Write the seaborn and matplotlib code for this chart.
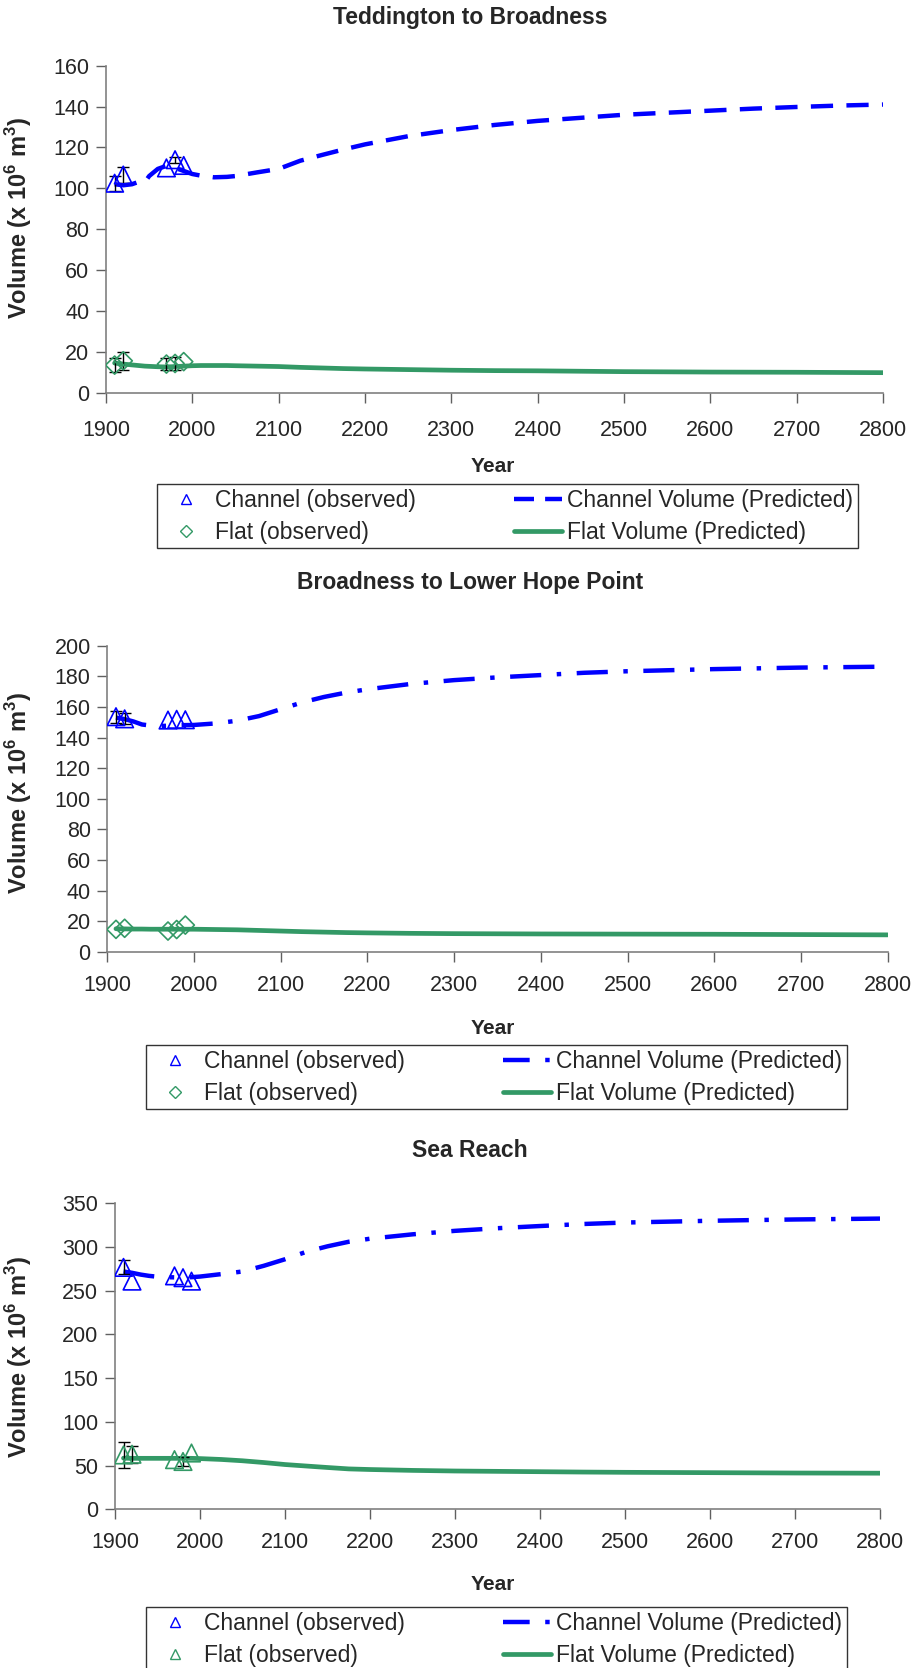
import matplotlib
matplotlib.use('Agg')
import matplotlib.pyplot as plt
from matplotlib.lines import Line2D
import numpy as np
import seaborn as sns

# observed survey years (same in every reach)
obs_years = [1910, 1920, 1970, 1980, 1990]

# Teddington to Broadness
ted_channel_obs = [102.5, 106.5, 110.0, 114.0, 111.2]
ted_channel_err = [3.6, 3.7, 0, 1.5, 0]
ted_flat_obs = [13.5, 15.6, 14.0, 14.3, 15.2]
ted_flat_err = [3.5, 4.3, 3.0, 3.0, 0]
ted_pred_years = [1910, 1920, 1930, 1940, 1945, 1950, 1960, 1970, 1980, 1990, 2000, 2010,
                  2025, 2040, 2050, 2075, 2100, 2125, 2150, 2175, 2200, 2250, 2300, 2350,
                  2400, 2450, 2500, 2550, 2600, 2650, 2700, 2750, 2800]
ted_channel_pred = [102, 101.5, 102, 103.5, 103, 106, 109.5, 111, 110, 108.5, 107, 106.2,
                    105.4, 105.6, 106, 107.8, 109.5, 113.5, 116.3, 119, 121.5, 125.5, 128.5, 131,
                    133, 134.5, 136, 137, 138, 139, 139.8, 140.5, 141]
ted_flat_pred = [14.5, 14, 13.6, 13.2, 13, 12.9, 12.7, 12.6, 12.8, 13, 13.2, 13.3,
                 13.3, 13.3, 13.2, 13, 12.8, 12.4, 12.1, 11.8, 11.6, 11.3, 11, 10.8,
                 10.7, 10.5, 10.3, 10.2, 10.1, 10.05, 10, 9.9, 9.8]

# Broadness to Lower Hope Point
brd_channel_obs = [153.6, 152.2, 151.4, 151.9, 151.6]
brd_channel_err = [4.0, 3.5, 0, 0, 0]
brd_flat_obs = [14.6, 15.3, 13.5, 14.5, 17.4]
brd_flat_err = [0, 0, 0, 0, 0]
brd_pred_years = [1910, 1920, 1930, 1940, 1950, 1960, 1970, 1980, 1990, 2000, 2025, 2050,
                  2075, 2100, 2125, 2150, 2175, 2200, 2250, 2300, 2350, 2400, 2450, 2500,
                  2550, 2600, 2650, 2700, 2750, 2800]
brd_channel_pred = [153, 152, 150.5, 148.5, 147.8, 147.5, 147.7, 148, 148.1, 148.2, 149.2, 151,
                    154, 158.5, 163, 166.5, 169.3, 171.5, 175, 177.5, 179.3, 180.8, 182.3, 183.3,
                    184, 184.7, 185.2, 185.7, 186, 186.3]
brd_flat_pred = [15, 14.9, 14.8, 14.8, 14.7, 14.7, 14.7, 14.7, 14.7, 14.7, 14.5, 14.3,
                 13.9, 13.5, 13.1, 12.8, 12.5, 12.3, 12, 11.8, 11.7, 11.6, 11.55, 11.5,
                 11.45, 11.4, 11.3, 11.2, 11.1, 11]

# Sea Reach
sea_channel_obs = [276.7, 261.0, 267.0, 264.9, 261.0]
sea_channel_err = [8.0, 0, 0, 0, 0]
sea_flat_obs = [62.2, 63.0, 56.8, 54.7, 64.4]
sea_flat_err = [15.0, 9.5, 0, 5.0, 0]
sea_pred_years = [1910, 1920, 1930, 1940, 1950, 1960, 1970, 1980, 1990, 2000, 2025, 2050,
                  2075, 2100, 2125, 2150, 2175, 2200, 2250, 2300, 2350, 2400, 2450, 2500,
                  2550, 2600, 2650, 2700, 2750, 2800]
sea_channel_pred = [272, 270.5, 268.5, 267, 266, 265.5, 265.3, 265.3, 265.5, 266.2, 269, 272,
                    278.5, 286, 294.5, 300.8, 306, 309.5, 314.5, 318.5, 321.5, 324, 326.3, 328,
                    329, 330, 330.8, 331.5, 332, 332.5]
sea_flat_pred = [58.5, 58.3, 58.3, 58.3, 58.3, 58.3, 58.3, 58.3, 58.3, 58, 57, 55.5,
                 53.5, 51.2, 49.5, 47.8, 46.2, 45.5, 44.5, 43.8, 43.4, 43, 42.6, 42.3,
                 42.1, 41.9, 41.7, 41.5, 41.4, 41.3]

titles = ['Teddington to Broadness', 'Broadness to Lower Hope Point', 'Sea Reach']
y_max = [160, 200, 350]
y_step = [20, 20, 50]

sns.set_style('white')
plt.rcParams['font.family'] = ['Liberation Sans', 'DejaVu Sans']
plt.rcParams['mathtext.fontset'] = 'custom'
plt.rcParams['mathtext.rm'] = 'Liberation Sans'
plt.rcParams['mathtext.bf'] = 'Liberation Sans:bold'

BLUE = '#0000FF'
GREEN = '#339966'
TICK_FS = 15.5
LEG_FS = 16.5

fig = plt.figure(figsize=(9.12, 16.68), dpi=100)
W, H = 912.0, 1668.0

# pixel layout of each panel: left, top, right(2800), bottom(0)
boxes = [(106, 65.7, 883, 392.7), (107.3, 645.7, 887.6, 951.7), (115, 1203.3, 880, 1509.3)]
title_base = [24, 589, 1157]
ylabel_y = [218, 793, 1357]
xlabel_y = [467, 1029, 1585]
xtick_pad = [13, 10, 9]
legend_xy = [(157, 484), (146, 1045), (146, 1607)]

dash_dot = (0, (7, 3.5, 1, 3.5))
panels = [
    (ted_pred_years, ted_channel_pred, ted_flat_pred, ted_channel_obs, ted_channel_err,
     ted_flat_obs, ted_flat_err, 'D', (0, (5, 3)), (0, (4.5, 2.5))),
    (brd_pred_years, brd_channel_pred, brd_flat_pred, brd_channel_obs, brd_channel_err,
     brd_flat_obs, brd_flat_err, 'D', dash_dot, (0, (6, 3.5, 1, 4))),
    (sea_pred_years, sea_channel_pred, sea_flat_pred, sea_channel_obs, sea_channel_err,
     sea_flat_obs, sea_flat_err, '^', dash_dot, (0, (6, 3.5, 1, 4))),
]

for i, (pyears, ch_pred, fl_pred, ch_obs, ch_err, fl_obs, fl_err, fl_marker, ch_ls, leg_ls) in enumerate(panels):
    l, t, r, b = boxes[i]
    ax = fig.add_axes([l / W, 1 - b / H, (r - l) / W, (b - t) / H])

    sns.lineplot(x=pyears, y=ch_pred, ax=ax, color=BLUE, lw=3.2, linestyle=ch_ls, zorder=2)
    sns.lineplot(x=pyears, y=fl_pred, ax=ax, color=GREEN, lw=3.4, zorder=2)

    # error bars (only where a bar exists)
    for vals, errs in ((ch_obs, ch_err), (fl_obs, fl_err)):
        xs = [x for x, e in zip(obs_years, errs) if e > 0]
        ys = [v for v, e in zip(vals, errs) if e > 0]
        es = [e for e in errs if e > 0]
        if xs:
            ax.errorbar(xs, ys, yerr=es, fmt='none', ecolor='black', elinewidth=1,
                        capsize=4, capthick=1, zorder=3)

    sns.scatterplot(x=obs_years, y=ch_obs, ax=ax, marker='^', s=160, facecolor='none',
                    edgecolor=BLUE, linewidth=1.2, zorder=4)
    fs = 85 if fl_marker == 'D' else 160
    sns.scatterplot(x=obs_years, y=fl_obs, ax=ax, marker=fl_marker, s=fs, facecolor='none',
                    edgecolor=GREEN, linewidth=1.2, zorder=4)

    ax.set_xlim(1900, 2800)
    ax.set_ylim(0, y_max[i])
    ax.set_xticks(np.arange(1900, 2801, 100))
    ax.set_yticks(np.arange(0, y_max[i] + 1, y_step[i]))
    ax.set_xlabel('')
    ax.set_ylabel('')
    for side in ('top', 'right'):
        ax.spines[side].set_visible(False)
    for side in ('left', 'bottom'):
        ax.spines[side].set_color('#808080')
        ax.spines[side].set_linewidth(1.2)
    ax.tick_params(axis='both', which='major', direction='out', length=7, width=1,
                   color='#606060', labelsize=TICK_FS, pad=5, left=True, bottom=True)
    ax.tick_params(axis='x', pad=xtick_pad[i])

    fig.text(470 / W, 1 - title_base[i] / H, titles[i], ha='center', va='baseline',
             fontsize=16.5, fontweight='bold')
    fig.text(19 / W, 1 - ylabel_y[i] / H, r'Volume (x 10$^{\mathbf{6}}$ m$^{\mathbf{3}}$)',
             ha='center', va='center', rotation=90, fontsize=17, fontweight='bold')
    fig.text(493 / W, 1 - xlabel_y[i] / H, 'Year', ha='center', va='center',
             fontsize=15, fontweight='bold')

    handles = [
        Line2D([], [], ls='none', marker='^', ms=7, mfc='none', mec=BLUE, mew=1),
        Line2D([], [], ls='none', marker=fl_marker, ms=6 if fl_marker == 'D' else 7,
               mfc='none', mec=GREEN, mew=1),
        Line2D([], [], color=BLUE, lw=3.2, ls=leg_ls),
        Line2D([], [], color=GREEN, lw=3.4),
    ]
    labels = ['Channel (observed)', 'Flat (observed)',
              'Channel Volume (Predicted)', 'Flat Volume (Predicted)']
    lx, ly = legend_xy[i]
    leg = fig.legend(handles, labels, ncol=2, loc='upper left',
                     bbox_to_anchor=(lx / W, 1 - ly / H), borderaxespad=0,
                     fontsize=LEG_FS, frameon=True, fancybox=False, edgecolor='black',
                     handlelength=2.1, handletextpad=0.22, columnspacing=4.3,
                     labelspacing=0.4, borderpad=0.2)
    leg.get_frame().set_linewidth(1.0)

fig.savefig('out.png', dpi=100)
